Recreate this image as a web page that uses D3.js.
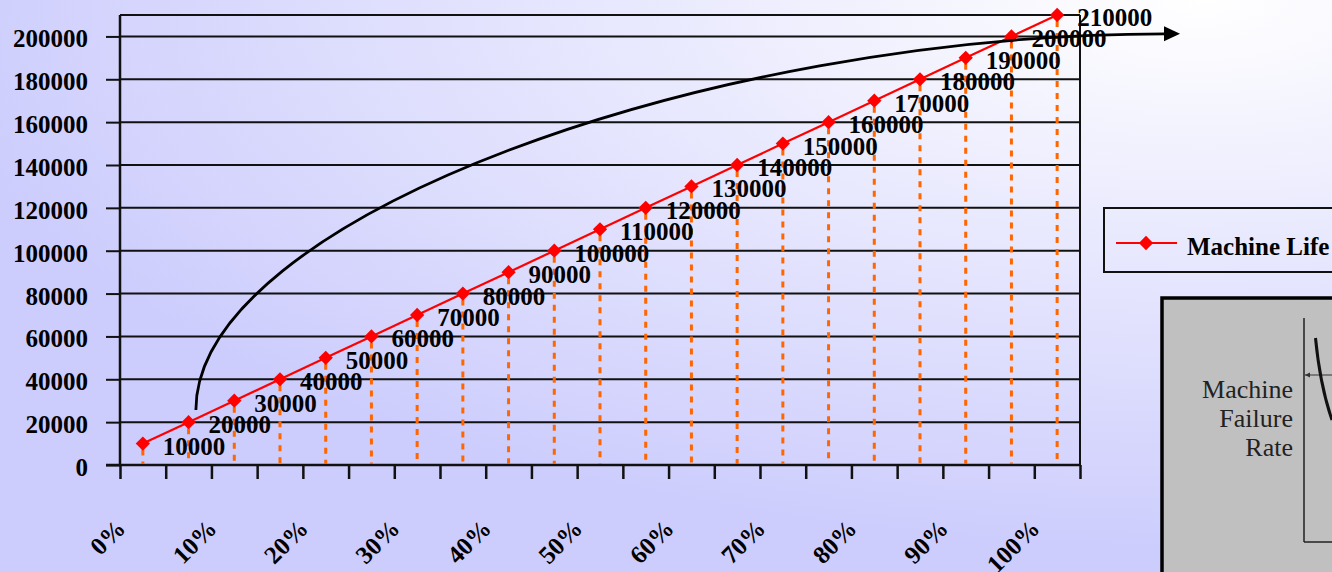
<!DOCTYPE html>
<html><head><meta charset="utf-8">
<script src="https://cdn.jsdelivr.net/npm/d3@7"></script>
<style>html,body{margin:0;padding:0;overflow:hidden;background:#fff;} svg{display:block;}</style>
</head><body>
<svg id="chart" width="1332" height="572"></svg>
<script>
// ---- data ----
const categories = ["0%","5%","10%","15%","20%","25%","30%","35%","40%","45%","50%","55%","60%","65%","70%","75%","80%","85%","90%","95%","100%"];
const tickLabels = ["0%","10%","20%","30%","40%","50%","60%","70%","80%","90%","100%"];
const machineLife = [10000,20000,30000,40000,50000,60000,70000,80000,90000,100000,110000,120000,130000,140000,150000,160000,170000,180000,190000,200000,210000];
const yTicks = [0,20000,40000,60000,80000,100000,120000,140000,160000,180000,200000];
const seriesName = "Machine Life";
// annotation arrow (cubic Bezier: start, control 1, control 2, end) in data units
const arrowIdx = [1.16, 1.16, 12.30, 22.36];
const arrowVal = [25700, 114500, 201200, 201200];
const insetLabel = ["Machine","Failure","Rate"];

const W = 1332, H = 572;
const M = {left:120, right:1080, top:15, bottom:465};
const FONT = "'Liberation Serif','Times New Roman',Times,serif";

const svg = d3.select("#chart");
const defs = svg.append("defs");
const grad = defs.append("radialGradient").attr("id","bg")
  .attr("gradientUnits","userSpaceOnUse").attr("cx",0).attr("cy",0).attr("r",1)
  .attr("gradientTransform","translate(1200,0) scale(1300,560)");
grad.append("stop").attr("offset","0").attr("stop-color","#ffffff");
grad.append("stop").attr("offset","1").attr("stop-color","#ccccfd");
svg.append("rect").attr("width",W).attr("height",H).attr("fill","url(#bg)");

const x = d3.scaleBand().domain(categories).range([M.left, M.right]).padding(0);
const xi = d3.scaleLinear().domain([-0.5, categories.length-0.5]).range([M.left, M.right]);
const y = d3.scaleLinear().domain([0,210000]).range([M.bottom, M.top]);
const cx = d => x(d) + x.bandwidth()/2;

// gridlines
svg.append("g").selectAll("line").data(yTicks).join("line")
  .attr("x1",M.left).attr("x2",M.right).attr("y1",d=>y(d)).attr("y2",d=>y(d))
  .attr("stroke","#111").attr("stroke-width",2);
// top & right frame
svg.append("line").attr("x1",M.left).attr("x2",M.right).attr("y1",M.top).attr("y2",M.top).attr("stroke","#111").attr("stroke-width",2);
svg.append("line").attr("x1",M.right).attr("x2",M.right).attr("y1",M.top).attr("y2",M.bottom).attr("stroke","#111").attr("stroke-width",2);

// y axis
const yAxis = svg.append("g").attr("transform",`translate(${M.left},0)`)
  .call(d3.axisLeft(y).tickValues(yTicks).tickSize(14).tickPadding(18).tickSizeOuter(0).tickFormat(d3.format("d")));
yAxis.select(".domain").attr("d",`M0,${M.top}V${M.bottom}`).attr("stroke","#111").attr("stroke-width",2.5);
yAxis.selectAll(".tick line").attr("stroke","#111").attr("stroke-width",2);
yAxis.selectAll(".tick text").attr("dy","0.42em").attr("fill","#000")
  .style("font-family",FONT).style("font-size","25px").style("font-weight","bold");

// x axis (ticks at category boundaries)
const xAxis = svg.append("g").attr("transform",`translate(0,${M.bottom})`)
  .call(d3.axisBottom(xi).tickValues(d3.range(-0.5, categories.length, 1)).tickSize(14).tickSizeOuter(0).tickFormat(""));
xAxis.select(".domain").attr("d",`M${M.left-14},0H${M.right}`).attr("stroke","#111").attr("stroke-width",2.5);
xAxis.selectAll(".tick line").attr("stroke","#111").attr("stroke-width",2.5);

// x tick labels (rotated)
svg.append("g").selectAll("text").data(tickLabels).join("text")
  .attr("transform",d=>`translate(${cx(d)-16},530) rotate(-45)`)
  .attr("text-anchor","end")
  .style("font-family",FONT).style("font-size","25px").style("font-weight","bold")
  .text(d=>d);

// drop lines
svg.append("g").selectAll("line").data(machineLife).join("line")
  .attr("x1",(d,i)=>cx(categories[i])).attr("x2",(d,i)=>cx(categories[i]))
  .attr("y1",d=>y(d)+6).attr("y2",M.bottom-1)
  .attr("stroke","#ff6600").attr("stroke-width",3).attr("stroke-dasharray","6,6");

// series line
const line = d3.line().x((d,i)=>cx(categories[i])).y(d=>y(d));
svg.append("path").datum(machineLife).attr("d",line)
  .attr("fill","none").attr("stroke","#ff0000").attr("stroke-width",2.2);
const diamond = d3.symbol().type(d3.symbolDiamond2).size(130);
svg.append("g").selectAll("path").data(machineLife).join("path")
  .attr("d",diamond).attr("transform",(d,i)=>`translate(${cx(categories[i])},${y(d)})`)
  .attr("fill","#ff0000");

// data labels
svg.append("g").selectAll("text").data(machineLife).join("text")
  .attr("x",(d,i)=>cx(categories[i])+20).attr("y",d=>y(d)+11)
  .style("font-family",FONT).style("font-size","25px").style("font-weight","bold")
  .text(d=>d);

// annotation curved arrow
const ap = arrowIdx.map((v,i)=>[xi(v), y(arrowVal[i])]);
const cp = d3.path();
cp.moveTo(ap[0][0], ap[0][1]);
cp.bezierCurveTo(ap[1][0], ap[1][1], ap[2][0], ap[2][1], ap[3][0], ap[3][1]);
svg.append("path").attr("d", cp.toString())
  .attr("fill","none").attr("stroke","#000").attr("stroke-width",2.8);
const end = ap[3];
svg.append("path").attr("d",`M${end[0]-1},${end[1]-7.5}L${end[0]+15},${end[1]}L${end[0]-1},${end[1]+7.5}Z`).attr("fill","#000");

// legend
const lg = svg.append("g");
lg.append("rect").attr("x",1104).attr("y",208).attr("width",260).attr("height",64)
  .attr("fill","none").attr("stroke","#111").attr("stroke-width",2);
lg.append("line").attr("x1",1116).attr("x2",1177).attr("y1",243).attr("y2",243).attr("stroke","#ff0000").attr("stroke-width",2.2);
lg.append("path").attr("d",diamond).attr("transform","translate(1146,243)").attr("fill","#ff0000");
lg.append("text").attr("x",1187).attr("y",255)
  .style("font-family",FONT).style("font-size","25px").style("font-weight","bold").text(seriesName);

// inset picture (bathtub-curve snippet)
const ins = svg.append("g");
ins.append("rect").attr("x",1162).attr("y",298).attr("width",200).attr("height",300)
  .attr("fill","#c0c0c0").attr("stroke","#000").attr("stroke-width",3.5);
ins.append("line").attr("x1",1304).attr("x2",1304).attr("y1",318).attr("y2",542).attr("stroke","#222").attr("stroke-width",1.5);
ins.append("line").attr("x1",1304).attr("x2",1340).attr("y1",542).attr("y2",542).attr("stroke","#222").attr("stroke-width",1.5);
ins.append("line").attr("x1",1305).attr("x2",1340).attr("y1",375).attr("y2",375).attr("stroke","#333").attr("stroke-width",1);
ins.append("path").attr("d","M1305,375l5,-2.5v5z").attr("fill","#333");
ins.append("path").attr("d","M1315.5,338Q1320,385 1332,420").attr("fill","none").attr("stroke","#111").attr("stroke-width",3);
ins.append("g").selectAll("text").data(insetLabel).join("text")
  .attr("x",1293).attr("y",(d,i)=>398+i*29).attr("text-anchor","end").attr("fill","#222")
  .style("font-family",FONT).style("font-size","26px").text(d=>d);
</script>
</body></html>
